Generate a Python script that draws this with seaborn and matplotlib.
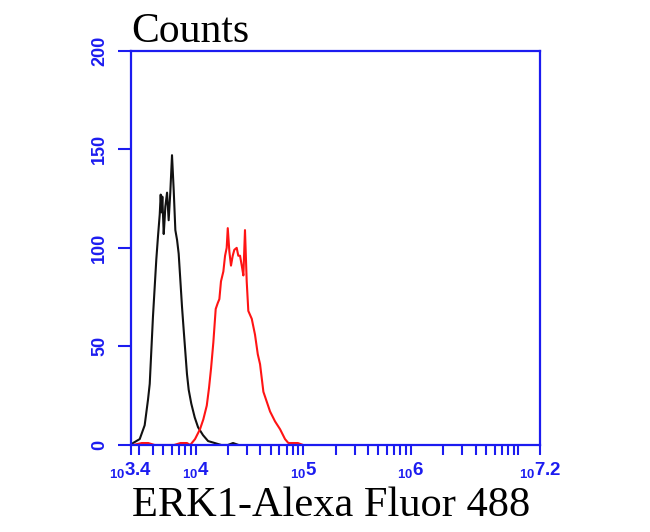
import numpy as np
import seaborn as sns
import matplotlib

matplotlib.use("Agg")
import matplotlib.pyplot as plt
from matplotlib.ticker import FixedLocator, FixedFormatter, LogLocator, NullFormatter

# Chart chrome
_AXIS_BLUE = "#1c1cf0"
_ISO_COLOR = "#111111"
_ERK_COLOR = "#ff1414"

# control (black) histogram: log10 fluorescence, event counts
ISO_LOG = [3.40, 3.419, 3.481, 3.527, 3.558, 3.574, 3.589, 3.604, 3.620, 3.635, 3.651, 3.667,
           3.676, 3.684, 3.691, 3.704, 3.712, 3.719, 3.735, 3.750, 3.765, 3.781, 3.797, 3.812,
           3.828, 3.843, 3.858, 3.874, 3.890, 3.905, 3.920, 3.936, 3.960, 3.992, 4.023, 4.069,
           4.116, 4.178, 4.239, 4.300, 4.348, 4.400]
ISO_COUNTS = [0, 1, 3, 10, 23, 31, 48, 65, 80, 94, 106, 117,
              127, 118, 126, 107, 114, 121, 128, 114, 128, 147, 129, 109,
              104, 97, 84, 70, 58, 47, 36, 28, 21, 14, 9, 5,
              2, 1, 0, 0, 1, 0]

# ERK1 stained (red) histogram
ERK_LOG = [3.42, 3.50, 3.56, 3.62, 3.80, 3.86, 3.92, 3.95, 3.995, 4.041, 4.072, 4.104,
           4.125, 4.144, 4.165, 4.187, 4.206, 4.221, 4.236, 4.258, 4.274, 4.289, 4.299, 4.314,
           4.329, 4.345, 4.360, 4.382, 4.397, 4.413, 4.429, 4.444, 4.459, 4.475, 4.490, 4.522,
           4.552, 4.578, 4.599, 4.630, 4.661, 4.692, 4.738, 4.785, 4.831, 4.862, 4.90, 4.95, 5.0]
ERK_COUNTS = [0, 1, 1, 0, 0, 1, 1, 0, 3, 8, 13, 20,
              29, 39, 52, 69, 72, 74, 83, 88, 96, 100, 110, 98,
              91, 96, 99, 100, 96, 96, 91, 86, 109, 83, 68, 64,
              56, 46, 41, 27, 22, 17, 12, 8, 3, 1, 1, 1, 0]

X_TICK_EXP = [3.4, 4, 5, 6, 7.2]
X_TICK_LABELS = [r"${}_{\mathbf{10}}\mathbf{3.4}$", r"${}_{\mathbf{10}}\mathbf{4}$",
                 r"${}_{\mathbf{10}}\mathbf{5}$", r"${}_{\mathbf{10}}\mathbf{6}$",
                 r"${}_{\mathbf{10}}\mathbf{7.2}$"]
Y_TICKS = [0, 50, 100, 150, 200]

sns.set_style("white")
plt.rcParams["font.family"] = ["Liberation Sans", "DejaVu Sans"]
plt.rcParams["mathtext.fontset"] = "custom"
plt.rcParams["mathtext.rm"] = "Liberation Sans"
plt.rcParams["mathtext.bf"] = "Liberation Sans:bold"

fig = plt.figure(figsize=(6.5, 5.32), dpi=100)
fig.set_facecolor("white")
ax = fig.add_axes([131 / 650, 87 / 532, 409 / 650, 394.3 / 532])
ax.set_facecolor("white")

sns.lineplot(x=np.power(10.0, ISO_LOG), y=ISO_COUNTS, color=_ISO_COLOR, linewidth=1.5,
             sort=False, estimator=None, ax=ax)
sns.lineplot(x=np.power(10.0, ERK_LOG), y=ERK_COUNTS, color=_ERK_COLOR, linewidth=1.5,
             sort=False, estimator=None, ax=ax)

ax.set_xscale("log")
ax.set_xlim(10 ** 3.4, 10 ** 7.2)
ax.set_ylim(0, 200)

ax.xaxis.set_major_locator(FixedLocator(np.power(10.0, X_TICK_EXP)))
ax.xaxis.set_major_formatter(FixedFormatter(X_TICK_LABELS))
ax.xaxis.set_minor_locator(LogLocator(base=10, subs=np.arange(1, 10), numticks=60))
ax.xaxis.set_minor_formatter(NullFormatter())
ax.set_yticks(Y_TICKS)

for spine in ax.spines.values():
    spine.set_visible(True)
    spine.set_color(_AXIS_BLUE)
    spine.set_linewidth(1.6)

ax.tick_params(axis="x", which="both", bottom=True, direction="out", length=7.5, width=1.5,
               color=_AXIS_BLUE, labelcolor=_AXIS_BLUE, labelsize=13.5, pad=4)
ax.tick_params(axis="y", left=True, direction="out", length=9.4, width=1.5,
               color=_AXIS_BLUE, labelcolor=_AXIS_BLUE, labelsize=13, pad=7)
for label in ax.get_yticklabels():
    label.set_rotation(90)
    label.set_verticalalignment("center")
    label.set_fontweight("bold")

ax.set_title("Counts", loc="left", fontfamily="Liberation Serif", fontsize=30, pad=6, color="black")
ax.set_xlabel("ERK1-Alexa Fluor 488", fontfamily="Liberation Serif", fontsize=30.5, labelpad=4,
              color="black")
ax.xaxis.label.set_x(0.49)
ax.set_ylabel("")

fig.savefig("out.png", dpi=100, facecolor=fig.get_facecolor())
plt.close(fig)
